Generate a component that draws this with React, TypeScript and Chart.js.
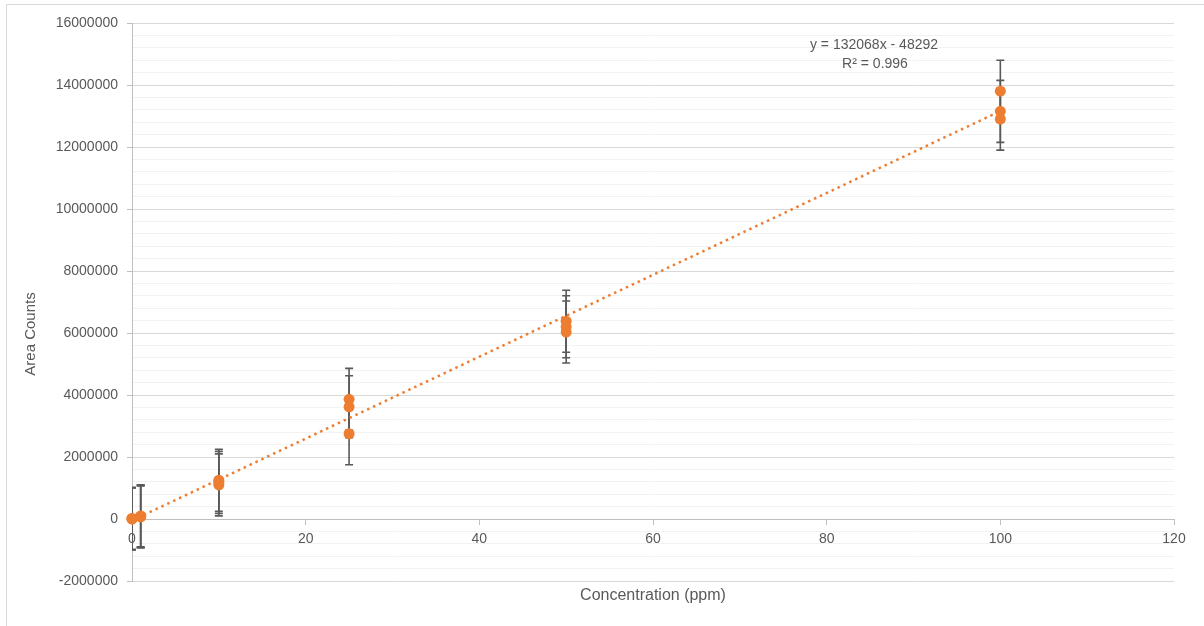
import React, { useEffect, useRef } from 'react';
import { Chart, registerables } from 'chart.js';

Chart.register(...registerables);

// ---- data ----
const concentrations = [0, 0, 0, 1, 1, 1, 10, 10, 10, 25, 25, 25, 50, 50, 50, 100, 100, 100];
const areaCounts = [
  20000, 0, 10000,
  70000, 85000, 100000,
  1250000, 1180000, 1100000,
  3860000, 3620000, 2750000,
  6380000, 6200000, 6030000,
  13800000, 13150000, 12900000,
];
const errorAmounts = [
  1000000, 1000000, 1000000,
  1000000, 1000000, 1000000,
  1000000, 1000000, 1000000,
  1000000, 1000000, 1000000,
  1000000, 1000000, 1000000,
  1000000, 1000000, 1000000,
];
const trendSlope = 132068;
const trendIntercept = -48292;
const trendRange = [0, 100];
const xRange = [0, 120];
const xStep = 20;
const yRange = [-2000000, 16000000];
const yMajorStep = 2000000;
const yMinorStep = 400000;
const equationLines = ['y = 132068x - 48292', 'R\u00B2 = 0.996'];
const xTitle = 'Concentration (ppm)';
const yTitle = 'Area Counts';

const FONT = "'Liberation Sans', Arial, sans-serif";
const TEXT = '#595959';
const ORANGE = '#ED7D31';

const decorPlugin = {
  id: 'decor',
  beforeDraw(chart: any) {
    const ctx = chart.ctx;
    ctx.save();
    ctx.fillStyle = '#ffffff';
    ctx.fillRect(0, 0, chart.width, chart.height);
    ctx.strokeStyle = '#d9d9d9';
    ctx.lineWidth = 1;
    ctx.beginPath();
    ctx.moveTo(6.5, chart.height);
    ctx.lineTo(6.5, 4.5);
    ctx.lineTo(chart.width, 4.5);
    ctx.stroke();
    ctx.restore();
  },
  beforeDatasetsDraw(chart: any) {
    const ctx = chart.ctx;
    const xs = chart.scales.x;
    const ys = chart.scales.y;
    const area = chart.chartArea;
    ctx.save();
    ctx.beginPath();
    ctx.rect(area.left, area.top - 10, area.right - area.left, area.bottom - area.top + 20);
    ctx.clip();
    ctx.strokeStyle = '#595959';
    ctx.lineWidth = 1.6;
    concentrations.forEach((c, i) => {
      const px = xs.getPixelForValue(c);
      const top = ys.getPixelForValue(areaCounts[i] + errorAmounts[i]);
      const bot = ys.getPixelForValue(areaCounts[i] - errorAmounts[i]);
      ctx.beginPath();
      ctx.moveTo(px, top);
      ctx.lineTo(px, bot);
      ctx.moveTo(px - 4, top);
      ctx.lineTo(px + 4, top);
      ctx.moveTo(px - 4, bot);
      ctx.lineTo(px + 4, bot);
      ctx.stroke();
    });
    ctx.restore();
  },
  afterDraw(chart: any) {
    const ctx = chart.ctx;
    const area = chart.chartArea;
    ctx.save();
    ctx.fillStyle = TEXT;
    ctx.textAlign = 'center';
    ctx.textBaseline = 'middle';
    ctx.font = `14px ${FONT}`;
    ctx.fillText(equationLines[0], 874, 45);
    ctx.fillText(equationLines[1], 875, 64);
    ctx.font = `16px ${FONT}`;
    ctx.fillText(xTitle, (area.left + area.right) / 2, 596);
    ctx.translate(31, 334);
    ctx.rotate(-Math.PI / 2);
    ctx.font = `15px ${FONT}`;
    ctx.fillText(yTitle, 0, 0);
    ctx.restore();
  },
};

export default function App() {
  const ref = useRef<HTMLCanvasElement | null>(null);

  useEffect(() => {
    if (!ref.current) return;
    const points = concentrations.map((c, i) => ({ x: c, y: areaCounts[i] }));
    const trend = trendRange.map((x) => ({ x, y: trendSlope * x + trendIntercept }));
    const chart = new Chart(ref.current, {
      type: 'scatter',
      data: {
        datasets: [
          {
            label: 'Area',
            data: points,
            backgroundColor: ORANGE,
            borderColor: ORANGE,
            pointRadius: 5.5,
            pointBorderWidth: 0,
            order: 1,
            clip: false,
          } as any,
          {
            label: 'Trend',
            data: trend,
            showLine: true,
            borderColor: ORANGE,
            borderWidth: 2.5,
            borderDash: [2.5, 4],
            pointRadius: 0,
            order: 2,
          } as any,
        ],
      },
      options: {
        responsive: false,
        animation: false,
        devicePixelRatio: 1,
        layout: { padding: { left: 0, top: 23, right: 30, bottom: 45 } },
        plugins: { legend: { display: false }, tooltip: { enabled: false }, title: { display: false } },
        scales: {
          x: {
            type: 'linear',
            position: { y: 0 } as any,
            min: xRange[0],
            max: xRange[1],
            grid: { drawOnChartArea: false, drawTicks: true, tickLength: 5, tickColor: '#bfbfbf' },
            border: { color: '#bfbfbf', width: 1 },
            ticks: { stepSize: xStep, color: TEXT, font: { family: FONT, size: 14 }, padding: 7, maxRotation: 0 },
          },
          y: {
            type: 'linear',
            position: 'left',
            min: yRange[0],
            max: yRange[1],
            afterFit: (scale: any) => { scale.width = 132; },
            grid: {
              color: (c: any) => (c.tick && c.tick.value % yMajorStep === 0 ? '#d9d9d9' : '#f2f2f2'),
              tickColor: (c: any) => (c.tick && c.tick.value % yMajorStep === 0 ? '#bfbfbf' : 'rgba(0,0,0,0)'),
              tickLength: 5,
            },
            border: { color: '#bfbfbf', width: 1 },
            ticks: {
              stepSize: yMinorStep,
              autoSkip: false,
              color: TEXT,
              font: { family: FONT, size: 14 },
              padding: 9,
              callback: (v: any) => (Number(v) % yMajorStep === 0 ? String(v) : ''),
            },
          },
        },
      },
      plugins: [decorPlugin],
    });
    return () => chart.destroy();
  }, []);

  return (
    <div style={{ position: 'fixed', left: 0, top: 0, width: 1204, height: 626, background: '#fff' }}>
      <canvas ref={ref} width={1204} height={626} style={{ display: 'block' }} />
    </div>
  );
}
